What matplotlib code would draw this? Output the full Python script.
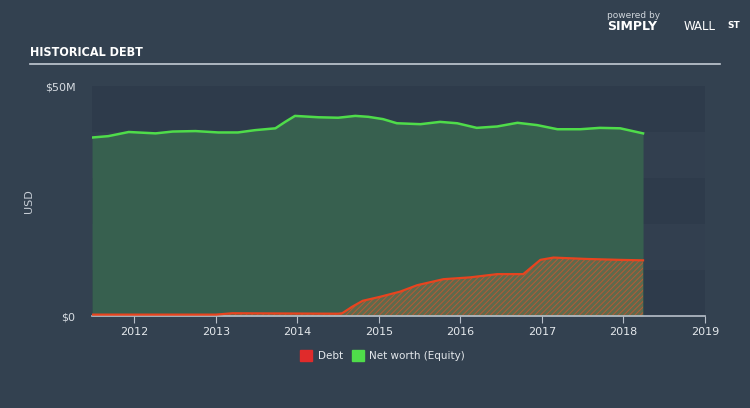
import numpy as np
import matplotlib.pyplot as plt

# data (decimal years, USD millions)
equity_t = [2011.48, 2011.68, 2011.93, 2012.26, 2012.47, 2012.75, 2013.03, 2013.27,
            2013.48, 2013.73, 2013.85, 2013.97, 2014.26, 2014.50, 2014.71, 2014.87,
            2015.05, 2015.22, 2015.51, 2015.75, 2015.96, 2016.20, 2016.45, 2016.70,
            2016.94, 2017.19, 2017.47, 2017.71, 2017.96, 2018.24]
equity = [38.8, 39.1, 40.0, 39.7, 40.1, 40.2, 39.9, 39.9,
          40.4, 40.8, 42.2, 43.5, 43.2, 43.1, 43.5, 43.3,
          42.8, 41.9, 41.7, 42.2, 41.9, 40.9, 41.2, 42.0,
          41.5, 40.6, 40.6, 40.9, 40.8, 39.7]
debt_t = [2011.48, 2013.00, 2013.20, 2014.50, 2014.55, 2014.67, 2014.80, 2015.02,
          2015.26, 2015.47, 2015.79, 2016.12, 2016.45, 2016.77, 2016.98, 2017.14,
          2017.55, 2017.96, 2018.24]
debt = [0.3, 0.3, 0.6, 0.5, 0.6, 2.0, 3.3, 4.2,
        5.3, 6.7, 8.0, 8.4, 9.1, 9.1, 12.2, 12.7,
        12.4, 12.2, 12.1]
years = [2012, 2013, 2014, 2015, 2016, 2017, 2018, 2019]

plt.rcParams['hatch.linewidth'] = 0.7

bg = '#334150'
fig = plt.figure(figsize=(7.5, 4.08), dpi=100, facecolor=bg)
ax = fig.add_axes([92/750, 1-316/408, (705-92)/750, (316-86)/408])
ax.set_facecolor(bg)

# alternating bands
for i in range(5):
    ax.axhspan(i*10, (i+1)*10, color='#2e3b4b' if i % 2 == 0 else '#323f4f', lw=0, zorder=0)

ax.fill_between(equity_t, 0, equity, color='#37604f', lw=0, zorder=1)
ax.plot(equity_t, equity, color='#4fdc4a', lw=1.8, zorder=3)

ax.fill_between(debt_t, 0, debt, facecolor='#5f6a4c', edgecolor='#b65a35',
                hatch='//////', lw=0, zorder=2)
ax.plot(debt_t, debt, color='#e8441f', lw=1.6, zorder=4)

ax.set_xlim(2011.48, 2019.0)
ax.set_ylim(0, 50)
ax.set_xticks(years)
ax.set_xticklabels([str(y) for y in years], color='#e4e8ec', fontsize=8)
ax.set_yticks([0, 50])
ax.set_yticklabels(['$0', '$50M'], color='#d8dde3', fontsize=8)
ax.tick_params(axis='x', length=5, color='#b8c0ca', pad=3)
ax.tick_params(axis='y', length=0, pad=12)
for s in ['top', 'right', 'left']:
    ax.spines[s].set_visible(False)
ax.spines['bottom'].set_color('#b8c0ca')
ax.spines['bottom'].set_linewidth(1.2)
ax.set_ylabel('USD', color='#c8ced6', fontsize=8, labelpad=8)

# title and rule
fig.text(30/750, 1-52/408, 'HISTORICAL DEBT', color='white', fontsize=9,
         fontweight='bold', family='DejaVu Sans', stretch='condensed', va='center')
fig.add_artist(plt.Line2D([30/750, 720/750], [1-64/408, 1-64/408],
                          color='#c3cad3', lw=1.2))

# branding
fig.text(607/750, 1-15/408, 'powered by', color='#d0d6dc', fontsize=6.5, va='center')
fig.text(607/750, 1-27/408, 'SIMPLY', color='white', fontsize=9, fontweight='bold', va='center')
fig.text(684/750, 1-27/408, 'WALL', color='white', fontsize=8.5, va='center')
fig.text(727/750, 1-25/408, 'ST', color='white', fontsize=6.5, fontweight='bold', va='center')

# legend
fig.patches.append(plt.Rectangle((300/750, 1-361/408), 12/750, 11/408,
                                 transform=fig.transFigure, color='#e02b2b'))
fig.text(318/750, 1-356/408, 'Debt', color='#e4e8ec', fontsize=7.5, va='center')
fig.patches.append(plt.Rectangle((352/750, 1-361/408), 12/750, 11/408,
                                 transform=fig.transFigure, color='#4fdc4a'))
fig.text(369/750, 1-356/408, 'Net worth (Equity)', color='#e4e8ec', fontsize=7.5, va='center')

fig.savefig('out.png', dpi=100, facecolor=bg)
